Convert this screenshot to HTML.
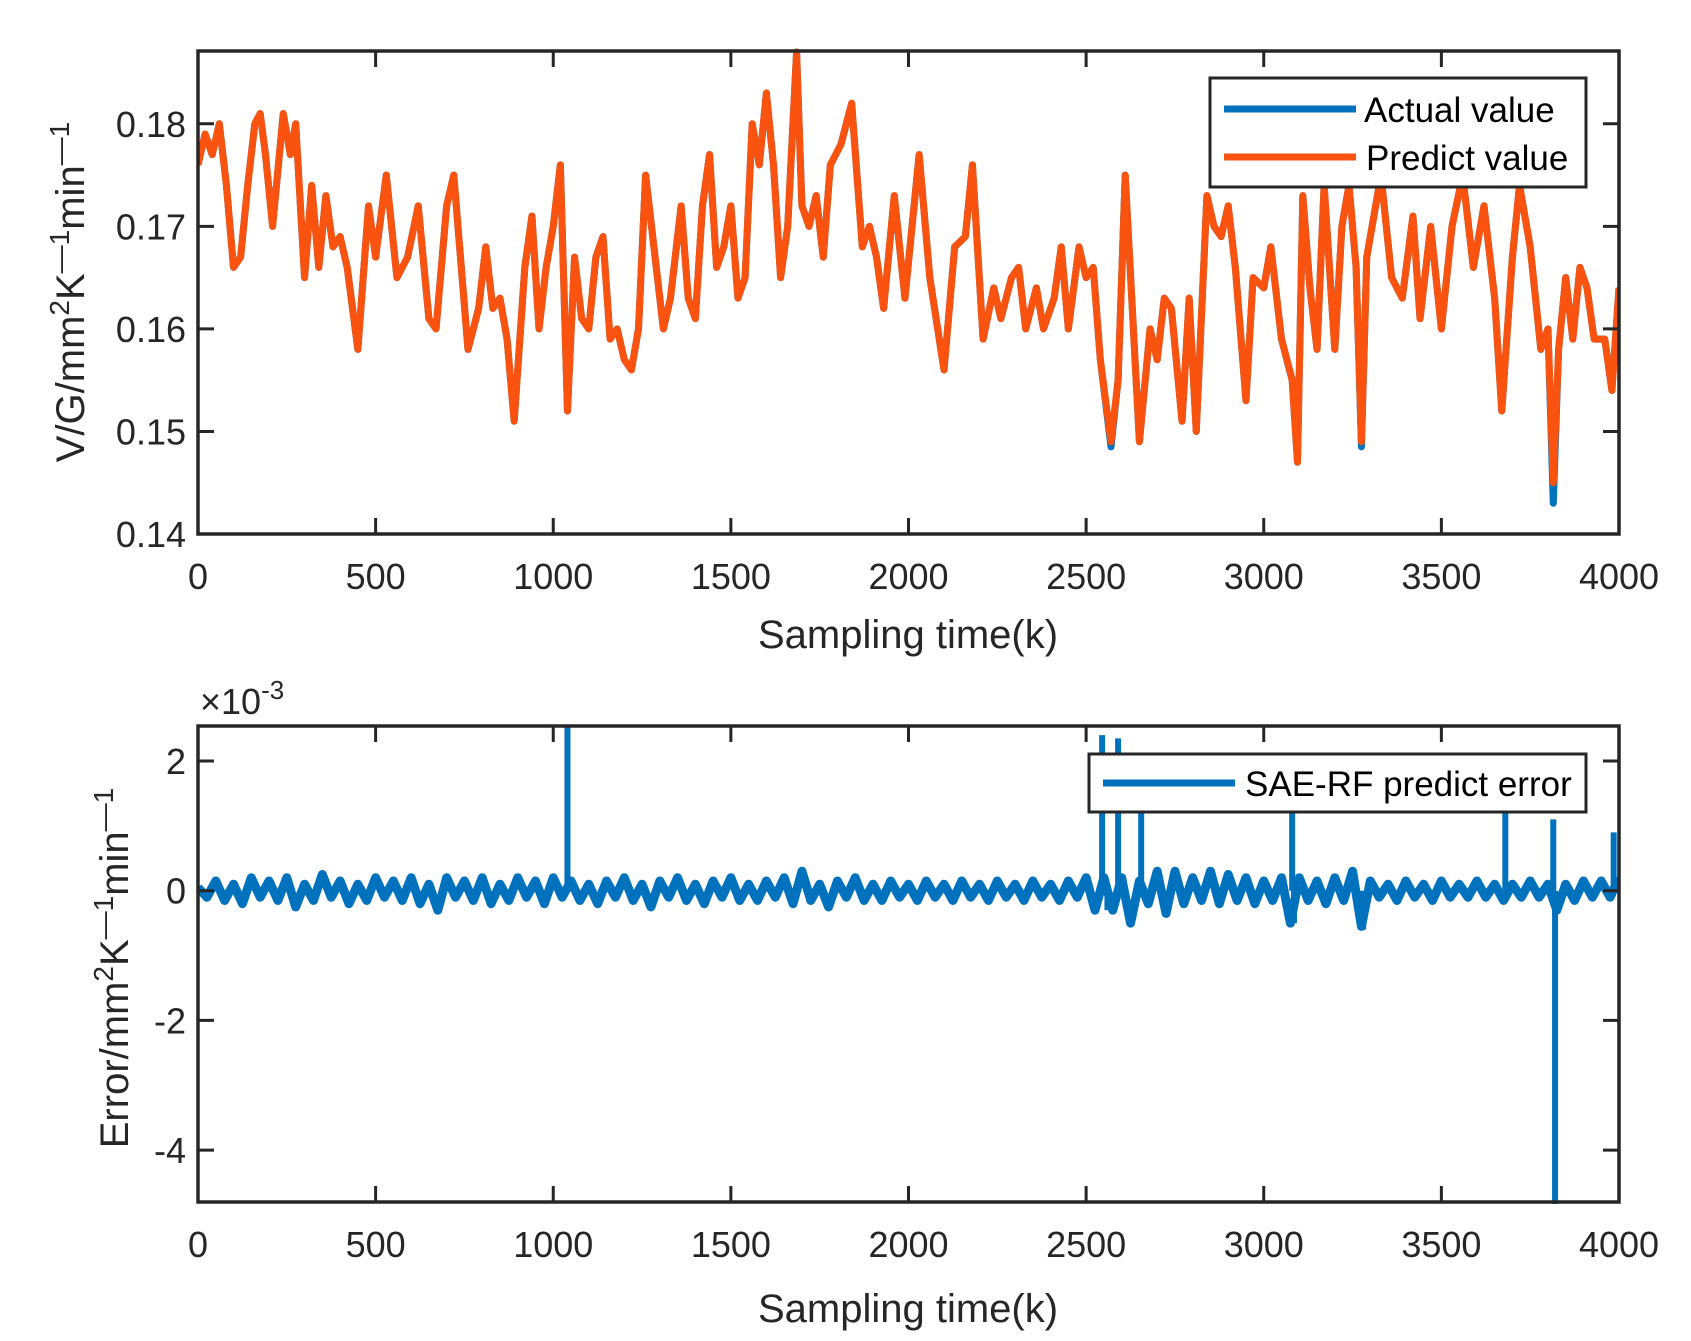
<!DOCTYPE html>
<html><head><meta charset="utf-8"><style>
body{margin:0;background:#fff;}
svg{display:block;font-family:"Liberation Sans",Arial,sans-serif;}
</style></head><body>
<svg id="fig" width="1691" height="1341" viewBox="0 0 1691 1341">
<rect width="1691" height="1341" fill="#fff"/>
<g id="top"></g>
<g id="bot"></g>
</svg>
<script>
const xTicks=[0,500,1000,1500,2000,2500,3000,3500,4000];
const topYTicks=[0.14,0.15,0.16,0.17,0.18];
const topYLabels=["0.14","0.15","0.16","0.17","0.18"];
const botYTicks=[-4,-2,0,2];
const botYLabels=["-4","-2","0","2"];
const topTimes=[0,20,40,60,80,100,120,140,160,175,190,210,240,260,275,300,320,340,360,380,400,420,450,480,500,530,560,590,620,650,670,700,720,760,790,810,830,850,870,890,920,940,960,980,1000,1020,1040,1060,1080,1100,1120,1140,1160,1180,1200,1220,1240,1260,1290,1310,1330,1360,1380,1400,1420,1440,1460,1480,1500,1520,1540,1560,1580,1600,1620,1640,1660,1685,1700,1720,1740,1760,1780,1810,1840,1870,1890,1910,1930,1960,1990,2010,2030,2060,2100,2130,2160,2180,2210,2240,2260,2290,2310,2330,2360,2380,2410,2430,2450,2480,2500,2520,2540,2570,2590,2610,2630,2650,2680,2700,2720,2740,2770,2790,2810,2840,2860,2880,2900,2920,2950,2970,3000,3020,3050,3080,3095,3110,3130,3150,3170,3200,3220,3240,3260,3275,3290,3310,3330,3360,3390,3420,3440,3470,3500,3530,3560,3590,3620,3650,3670,3700,3720,3750,3780,3800,3815,3830,3850,3870,3890,3910,3930,3960,3980,4000];
const predictValues=[0.176,0.179,0.177,0.180,0.174,0.166,0.167,0.174,0.180,0.181,0.177,0.170,0.181,0.177,0.180,0.165,0.174,0.166,0.173,0.168,0.169,0.166,0.158,0.172,0.167,0.175,0.165,0.167,0.172,0.161,0.160,0.172,0.175,0.158,0.162,0.168,0.162,0.163,0.159,0.151,0.166,0.171,0.160,0.166,0.170,0.176,0.152,0.167,0.161,0.160,0.167,0.169,0.159,0.160,0.157,0.156,0.160,0.175,0.166,0.160,0.163,0.172,0.163,0.161,0.172,0.177,0.166,0.168,0.172,0.163,0.165,0.180,0.176,0.183,0.176,0.165,0.170,0.187,0.172,0.170,0.173,0.167,0.176,0.178,0.182,0.168,0.170,0.167,0.162,0.173,0.163,0.170,0.177,0.165,0.156,0.168,0.169,0.176,0.159,0.164,0.161,0.165,0.166,0.160,0.164,0.160,0.163,0.168,0.160,0.168,0.165,0.166,0.157,0.149,0.155,0.175,0.162,0.149,0.160,0.157,0.163,0.162,0.151,0.163,0.150,0.173,0.170,0.169,0.172,0.166,0.153,0.165,0.164,0.168,0.159,0.155,0.147,0.173,0.164,0.158,0.174,0.158,0.170,0.174,0.166,0.149,0.167,0.171,0.175,0.165,0.163,0.171,0.161,0.170,0.160,0.170,0.175,0.166,0.172,0.163,0.152,0.167,0.174,0.168,0.158,0.160,0.145,0.158,0.165,0.159,0.166,0.164,0.159,0.159,0.154,0.164];
const actualValues=[0.176,0.179,0.177,0.180,0.174,0.166,0.167,0.174,0.180,0.181,0.177,0.170,0.181,0.177,0.180,0.165,0.174,0.166,0.173,0.168,0.169,0.166,0.158,0.172,0.167,0.175,0.165,0.167,0.172,0.161,0.160,0.172,0.175,0.158,0.162,0.168,0.162,0.163,0.159,0.151,0.166,0.171,0.160,0.166,0.170,0.176,0.152,0.167,0.161,0.160,0.167,0.169,0.159,0.160,0.157,0.156,0.160,0.175,0.166,0.160,0.163,0.172,0.163,0.161,0.172,0.177,0.166,0.168,0.172,0.163,0.165,0.180,0.176,0.183,0.176,0.165,0.170,0.187,0.172,0.170,0.173,0.167,0.176,0.178,0.182,0.168,0.170,0.167,0.162,0.173,0.163,0.170,0.177,0.165,0.156,0.168,0.169,0.176,0.159,0.164,0.161,0.165,0.166,0.160,0.164,0.160,0.163,0.168,0.160,0.168,0.165,0.166,0.157,0.1485,0.155,0.175,0.162,0.149,0.160,0.157,0.163,0.162,0.151,0.163,0.150,0.173,0.170,0.169,0.172,0.166,0.153,0.165,0.164,0.168,0.159,0.155,0.147,0.173,0.164,0.158,0.174,0.158,0.170,0.174,0.166,0.1485,0.167,0.171,0.175,0.165,0.163,0.171,0.161,0.170,0.160,0.170,0.175,0.166,0.172,0.163,0.152,0.167,0.174,0.168,0.158,0.160,0.143,0.158,0.165,0.159,0.166,0.164,0.159,0.159,0.154,0.164];
// error noise every 25 samples (x1e-3)
const errNoise=[0.05,-0.1,0.15,-0.15,0.1,-0.2,0.2,-0.1,0.15,-0.15,0.2,-0.25,0.1,-0.15,0.25,-0.1,0.15,-0.2,0.1,-0.15,0.2,-0.1,0.15,-0.15,0.2,-0.2,0.1,-0.3,0.2,-0.1,0.15,-0.15,0.2,-0.2,0.1,-0.15,0.2,-0.1,0.15,-0.2,0.2,-0.1,0.15,-0.15,0.1,-0.2,0.15,-0.1,0.2,-0.15,0.1,-0.25,0.15,-0.1,0.2,-0.15,0.1,-0.2,0.15,-0.1,0.2,-0.15,0.1,-0.15,0.15,-0.1,0.2,-0.2,0.3,-0.15,0.1,-0.25,0.15,-0.1,0.2,-0.15,0.1,-0.15,0.15,-0.1,0.1,-0.15,0.15,-0.1,0.1,-0.15,0.15,-0.1,0.1,-0.15,0.15,-0.1,0.1,-0.15,0.15,-0.1,0.1,-0.15,0.15,-0.1,0.2,-0.3,0.2,-0.3,0.2,-0.5,0.15,-0.2,0.3,-0.35,0.3,-0.2,0.2,-0.15,0.3,-0.2,0.25,-0.15,0.2,-0.2,0.15,-0.15,0.2,-0.5,0.2,-0.15,0.15,-0.2,0.2,-0.15,0.3,-0.55,0.15,-0.1,0.1,-0.15,0.15,-0.1,0.1,-0.15,0.15,-0.1,0.1,-0.1,0.15,-0.1,0.1,-0.15,0.1,-0.1,0.15,-0.1,0.1,-0.3,0.1,-0.15,0.15,-0.1,0.15,-0.1,0.2];
const spikeTimes=[1040,2545,2560,2590,2655,3080,3085,3280,3680,3815,3820,3985];
const spikeValues=[2.55,2.4,-0.3,2.35,1.4,1.4,-0.5,-0.6,1.5,1.1,-4.9,0.9];

const NS="http://www.w3.org/2000/svg";
function mk(parent,tag,attrs,text){const e=document.createElementNS(NS,tag);for(const k in attrs)e.setAttribute(k,attrs[k]);if(text!==undefined)e.textContent=text;parent.appendChild(e);return e;}

function axes(g,cfg){
  const sx=v=>cfg.x0+(v-0)/(4000)*(cfg.x1-cfg.x0);
  const sy=v=>cfg.y1-(v-cfg.ymin)/(cfg.ymax-cfg.ymin)*(cfg.y1-cfg.y0);
  return {sx,sy};
}
function drawFrame(g,cfg,sx,sy,yTicks,yLabels){
  xTicks.forEach(t=>{
    const x=sx(t);
    const tk=mk(g,'path',{d:`M${x},${cfg.y1}v-16M${x},${cfg.y0}v16`,stroke:'#262626','stroke-width':3});
    
    
    const l=mk(g,'text',{x:x,y:cfg.y1+55,'text-anchor':'middle','font-size':36,fill:'#262626'},String(t));
    
    
  });
  yTicks.forEach((t,i)=>{
    const y=sy(t);
    const tk=mk(g,'path',{d:`M${cfg.x0},${y}h16M${cfg.x1},${y}h-16`,stroke:'#262626','stroke-width':3});
    
    
    const l=mk(g,'text',{x:cfg.x0-12,y:y+13,'text-anchor':'end','font-size':36,fill:'#262626'},yLabels[i]);
    
    
  });
  const b=mk(g,'rect',{x:cfg.x0,y:cfg.y0,width:cfg.x1-cfg.x0,height:cfg.y1-cfg.y0,fill:'none',stroke:'#262626','stroke-width':3.5});
  
  
}

// TOP
const T={x0:198,x1:1619,y0:51,y1:534,ymin:0.14,ymax:0.1871};
const gt=document.getElementById('top');
const A=axes(gt,T);
const clipT=mk(gt,'clipPath',{id:'ct'});mk(clipT,'rect',{x:T.x0,y:T.y0-4,width:T.x1-T.x0,height:T.y1-T.y0+8});
const pa=mk(gt,'polyline',{points:topTimes.map((t,i)=>A.sx(t)+','+A.sy(actualValues[i])).join(' '),fill:'none',stroke:'#0072BD','stroke-width':7,'stroke-linejoin':'round','clip-path':'url(#ct)'});


const pp=mk(gt,'polyline',{points:topTimes.map((t,i)=>A.sx(t)+','+A.sy(predictValues[i])).join(' '),fill:'none',stroke:'#F9530F','stroke-width':7,'stroke-linejoin':'round','clip-path':'url(#ct)'});


drawFrame(gt,T,A.sx,A.sy,topYTicks,topYLabels);
const xl1=mk(gt,'text',{x:908,y:648,'text-anchor':'middle','font-size':40,fill:'#262626'},'Sampling time(k)');


const yl1=mk(gt,'text',{transform:'translate(84,292) rotate(-90)','text-anchor':'middle','font-size':40,fill:'#262626'});


yl1.innerHTML='V/G/mm<tspan dy="-15" font-size="28">2</tspan><tspan dy="15">K</tspan><tspan dy="-15" font-size="28">—1</tspan><tspan dy="15">min</tspan><tspan dy="-15" font-size="28">—1</tspan>';
const lg1=mk(gt,'g',{});


mk(lg1,'rect',{x:1210,y:78,width:376,height:109,fill:'#fff',stroke:'#262626','stroke-width':3});
mk(lg1,'line',{x1:1224,y1:109,x2:1356,y2:109,stroke:'#0072BD','stroke-width':7});
mk(lg1,'line',{x1:1224,y1:157,x2:1356,y2:157,stroke:'#F9530F','stroke-width':7});
const le1=mk(lg1,'text',{x:1364,y:122,'font-size':35,fill:'#000'},'Actual value');


const le2=mk(lg1,'text',{x:1366,y:170,'font-size':35,fill:'#000'},'Predict value');



// BOTTOM
const B={x0:198,x1:1619,y0:726,y1:1202,ymin:-4.8,ymax:2.54};
const gb=document.getElementById('bot');
const Bs=axes(gb,B);
const clipB=mk(gb,'clipPath',{id:'cb'});mk(clipB,'rect',{x:B.x0,y:B.y0-2,width:B.x1-B.x0,height:B.y1-B.y0+4});
const ep=mk(gb,'polyline',{points:errNoise.map((v,i)=>Bs.sx(i*25)+','+Bs.sy(v)).join(' '),fill:'none',stroke:'#0072BD','stroke-width':9,'stroke-linejoin':'round','clip-path':'url(#cb)'});


spikeTimes.forEach((t,i)=>{
  const s=mk(gb,'line',{x1:Bs.sx(t),y1:Bs.sy(0),x2:Bs.sx(t),y2:Bs.sy(spikeValues[i]),stroke:'#0072BD','stroke-width':6,'clip-path':'url(#cb)'});
  
  
});
drawFrame(gb,B,Bs.sx,Bs.sy,botYTicks,botYLabels);
const ex=mk(gb,'text',{x:200,y:714,'font-size':36,fill:'#262626'});


ex.innerHTML='×10<tspan dy="-15" font-size="26">-3</tspan>';
const xl2=mk(gb,'text',{x:908,y:1322,'text-anchor':'middle','font-size':40,fill:'#262626'},'Sampling time(k)');


const yl2=mk(gb,'text',{transform:'translate(128,968) rotate(-90)','text-anchor':'middle','font-size':40,fill:'#262626'});


yl2.innerHTML='Error/mm<tspan dy="-15" font-size="28">2</tspan><tspan dy="15">K</tspan><tspan dy="-15" font-size="28">—1</tspan><tspan dy="15">min</tspan><tspan dy="-15" font-size="28">—1</tspan>';
const lg2=mk(gb,'g',{});


mk(lg2,'rect',{x:1089,y:754,width:497,height:58,fill:'#fff',stroke:'#262626','stroke-width':3});
mk(lg2,'line',{x1:1103,y1:783,x2:1235,y2:783,stroke:'#0072BD','stroke-width':7});
const le3=mk(lg2,'text',{x:1245,y:796,'font-size':35,fill:'#000'},'SAE-RF predict error');


</script>
</body></html>
